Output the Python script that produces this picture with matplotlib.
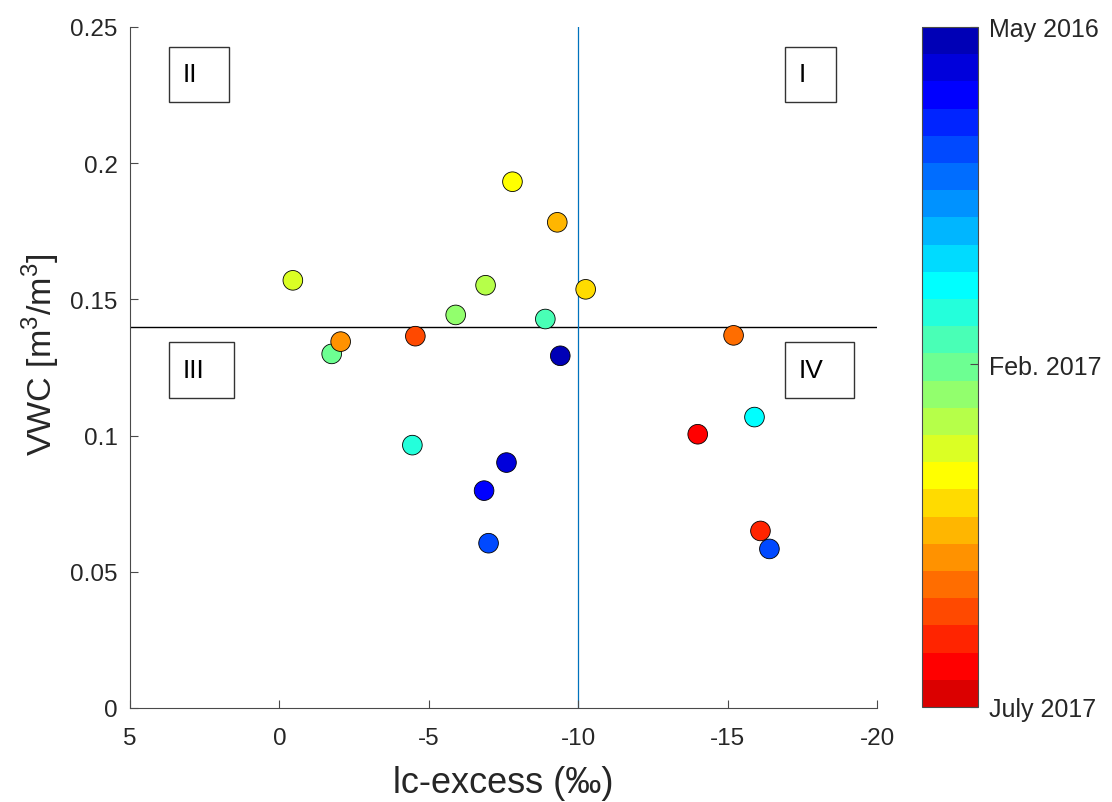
import numpy as np
import matplotlib
matplotlib.use('Agg')
import matplotlib.pyplot as plt
from matplotlib.colors import ListedColormap, Normalize
from matplotlib.cm import ScalarMappable
from matplotlib.patches import Rectangle

plt.rcParams['font.family'] = ['Liberation Sans', 'DejaVu Sans']
plt.rcParams['axes.unicode_minus'] = False

# data: lc-excess, VWC and the colour band (1 = May 2016 ... 25 = July 2017)
lc_excess = [-0.45, -1.75, -2.05, -4.55, -5.9, -6.9, -7.8, -9.3, -10.25, -8.9,
             -9.4, -4.45, -7.6, -6.85, -7.0, -14.0, -15.9, -16.1, -16.4, -15.2]
vwc = [0.157, 0.130, 0.1345, 0.1365, 0.1443, 0.1552, 0.1932, 0.1783, 0.1537, 0.1428,
       0.1293, 0.0965, 0.0901, 0.0798, 0.0605, 0.1005, 0.1068, 0.0650, 0.0584, 0.1368]
band = [16, 13, 20, 22, 14, 15, 17, 19, 18, 12,
        1, 11, 2, 3, 5, 24, 10, 23, 5, 21]

vwc_threshold = 0.14
lc_threshold = -10

xticks = [5, 0, -5, -10, -15, -20]
yticks = [0, 0.05, 0.1, 0.15, 0.2, 0.25]
cbar_ticks = [0.5, 12.9, 25.5]
cbar_labels = ['May 2016', 'Feb. 2017', 'July 2017']
quadrants = ['II', 'I', 'III', 'IV']


def matlab_jet(m):
    # same as MATLAB's jet(m)
    n = int(np.ceil(m / 4))
    u = np.concatenate([np.arange(1, n + 1) / n, np.ones(n - 1), np.arange(n, 0, -1) / n])
    g = int(np.ceil(n / 2)) - (1 if m % 4 == 1 else 0) + np.arange(1, len(u) + 1)
    r = g + n
    b = g - n
    g = g[g <= m]
    r = r[r <= m]
    b = b[b >= 1]
    J = np.zeros((m, 3))
    J[r - 1, 0] = u[:len(r)]
    J[g - 1, 1] = u[:len(g)]
    J[b - 1, 2] = u[len(u) - len(b):]
    return J


cmap = ListedColormap(matlab_jet(25))
norm = Normalize(vmin=0.5, vmax=25.5)

W, H = 1112, 803
fig = plt.figure(figsize=(W / 100, H / 100), dpi=100)
ax = fig.add_axes([130 / W, 1 - 709 / H, 747 / W, 681 / H])

ax.axhline(vwc_threshold, color='black', lw=1.0, zorder=1)
ax.axvline(lc_threshold, color='#0072BD', lw=0.9, zorder=1)
ax.scatter(lc_excess, vwc, c=band, cmap=cmap, norm=norm, s=200,
           edgecolors='black', linewidths=0.6, zorder=3)

ax.set_xlim(5, -20)
ax.set_ylim(0, 0.25)
ax.set_xticks(xticks)
ax.set_yticks(yticks)
ax.set_xticklabels(['%g' % v for v in xticks])
ax.set_yticklabels(['%g' % v for v in yticks])

axcol = '#262626'
for side in ['top', 'right']:
    ax.spines[side].set_visible(False)
for side in ['left', 'bottom']:
    ax.spines[side].set_color('#4a4a4a')
    ax.spines[side].set_linewidth(0.8)
ax.tick_params(direction='in', length=6, width=0.8, color='#4a4a4a',
               labelsize=17.5, labelcolor=axcol, pad=9)
ax.tick_params(axis='x', pad=14)

ax.set_xlabel('lc-excess (‰)', fontsize=26, color=axcol, labelpad=11)
ax.set_ylabel('VWC [m$^\\mathregular{3}$/m$^\\mathregular{3}$]', fontsize=24.5, color=axcol,
              labelpad=6)
ax.yaxis.label.set_y(0.52)

# colorbar, May 2016 at the top
cax = fig.add_axes([922 / W, 1 - 708 / H, 56 / W, 680 / H])
sm = ScalarMappable(norm=norm, cmap=cmap)
cb = fig.colorbar(sm, cax=cax)
cax.invert_yaxis()
cb.set_ticks(cbar_ticks)
cb.set_ticklabels(cbar_labels)
cb.outline.set_edgecolor('#4a4a4a')
cb.outline.set_linewidth(0.8)
cax.tick_params(direction='in', length=6, width=0.8, color='#4a4a4a',
                labelsize=18, labelcolor=axcol, pad=8)
cax.minorticks_off()

# quadrant boxes
boxes = [(169, 48, 60, 55), (785, 48, 51, 55), (169, 343, 65, 56), (785, 343, 69, 56)]
for (x0, y0, w, h), lab in zip(boxes, quadrants):
    fig.add_artist(Rectangle((x0 / W, 1 - (y0 + h) / H), w / W, h / H,
                             transform=fig.transFigure, fill=False,
                             ec='#333333', lw=1.0))
    fig.text((x0 + 14) / W, 1 - (y0 + h / 2) / H, lab, fontsize=19,
             color='black', ha='left', va='center')

fig.savefig('out.png', dpi=100)
